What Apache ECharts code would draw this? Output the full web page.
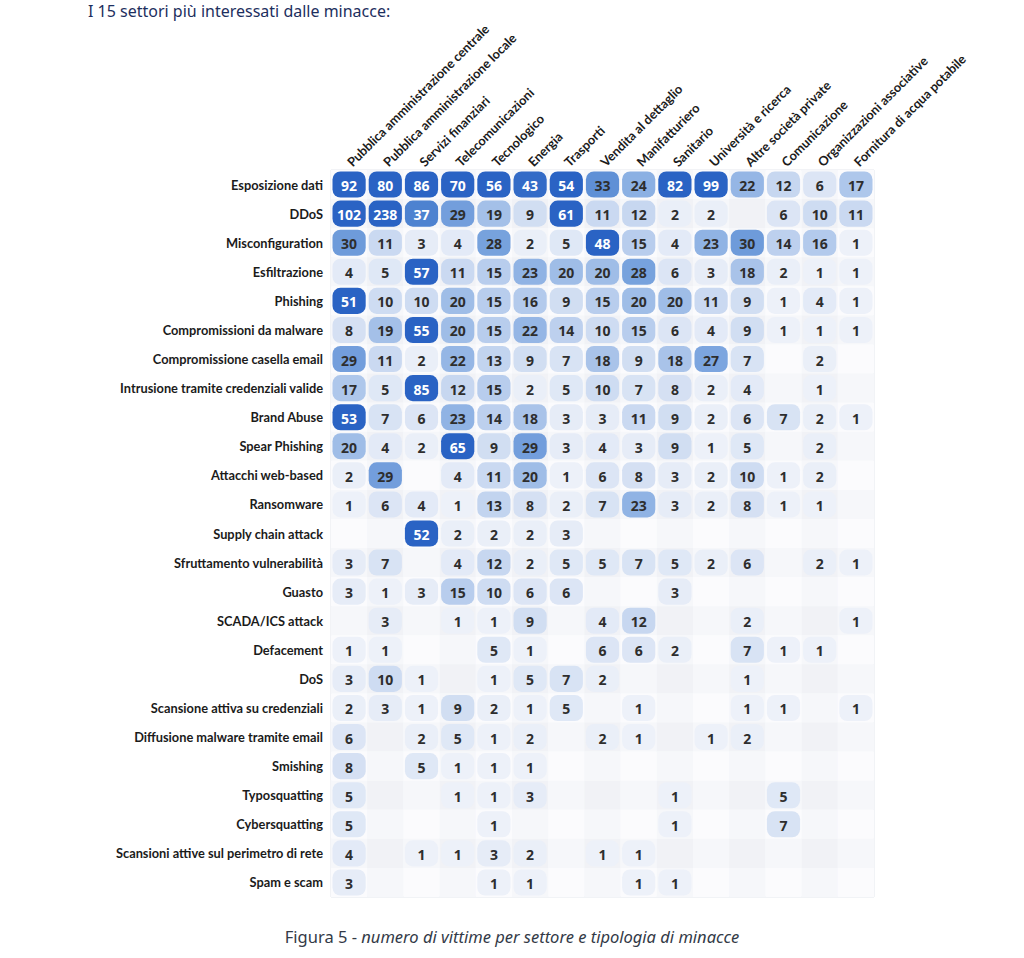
<!DOCTYPE html>
<html>
<head>
<meta charset="utf-8">
<script src="https://cdn.jsdelivr.net/npm/echarts@6/dist/echarts.min.js"></script>
<style>
html,body{margin:0;padding:0;background:#fff;}
#chart{width:1024px;height:958px;}
</style>
</head>
<body>
<div id="chart"></div>
<script>
const sectors = [
  'Pubblica amministrazione centrale','Pubblica amministrazione locale','Servizi finanziari',
  'Telecomunicazioni','Tecnologico','Energia','Trasporti','Vendita al dettaglio',
  'Manifatturiero','Sanitario','Università e ricerca','Altre società private',
  'Comunicazione','Organizzazioni associative','Fornitura di acqua potabile'
];
const threats = [
  'Esposizione dati','DDoS','Misconfiguration','Esfiltrazione','Phishing',
  'Compromissioni da malware','Compromissione casella email','Intrusione tramite credenziali valide',
  'Brand Abuse','Spear Phishing','Attacchi web-based','Ransomware','Supply chain attack',
  'Sfruttamento vulnerabilità','Guasto','SCADA/ICS attack','Defacement','DoS',
  'Scansione attiva su credenziali','Diffusione malware tramite email','Smishing',
  'Typosquatting','Cybersquatting','Scansioni attive sul perimetro di rete','Spam e scam'
];
// one row per threat, one column per sector (null = no victims)
const counts = [
  [92,80,86,70,56,43,54,33,24,82,99,22,12,6,17],
  [102,238,37,29,19,9,61,11,12,2,2,null,6,10,11],
  [30,11,3,4,28,2,5,48,15,4,23,30,14,16,1],
  [4,5,57,11,15,23,20,20,28,6,3,18,2,1,1],
  [51,10,10,20,15,16,9,15,20,20,11,9,1,4,1],
  [8,19,55,20,15,22,14,10,15,6,4,9,1,1,1],
  [29,11,2,22,13,9,7,18,9,18,27,7,null,2,null],
  [17,5,85,12,15,2,5,10,7,8,2,4,null,1,null],
  [53,7,6,23,14,18,3,3,11,9,2,6,7,2,1],
  [20,4,2,65,9,29,3,4,3,9,1,5,null,2,null],
  [2,29,null,4,11,20,1,6,8,3,2,10,1,2,null],
  [1,6,4,1,13,8,2,7,23,3,2,8,1,1,null],
  [null,null,52,2,2,2,3,null,null,null,null,null,null,null,null],
  [3,7,null,4,12,2,5,5,7,5,2,6,null,2,1],
  [3,1,3,15,10,6,6,null,null,3,null,null,null,null,null],
  [null,3,null,1,1,9,null,4,12,null,null,2,null,null,1],
  [1,1,null,null,5,1,null,6,6,2,null,7,1,1,null],
  [3,10,1,null,1,5,7,2,null,null,null,1,null,null,null],
  [2,3,1,9,2,1,5,null,1,null,null,1,1,null,1],
  [6,null,2,5,1,2,null,2,1,null,1,2,null,null,null],
  [8,null,5,1,1,1,null,null,null,null,null,null,null,null,null],
  [5,null,null,1,1,3,null,null,null,1,null,null,5,null,null],
  [5,null,null,null,1,null,null,null,null,1,null,null,7,null,null],
  [4,null,1,1,3,2,null,1,1,null,null,null,null,null,null],
  [3,null,null,null,1,1,null,null,1,1,null,null,null,null,null]
];
const headline = 'I 15 settori più interessati dalle minacce:';
const captionLead = 'Figura 5 - ';
const captionText = 'numero di vittime per settore e tipologia di minacce';

const cells = [];
const bgCells = [];
counts.forEach((row, r) => row.forEach((v, c) => {
  bgCells.push([c, r, 0]);
  if (v !== null) cells.push([c, r, v]);
}));

const chart = echarts.init(document.getElementById('chart'), null, {renderer: 'svg'});
const FONT = '"Noto Sans", "Open Sans", sans-serif';
const LFONT = 'Lato, "Noto Sans", sans-serif';

chart.setOption({
  animation: false,
  backgroundColor: '#ffffff',
  grid: {left: 331, right: 150, top: 170, bottom: 61, show: true,
         backgroundColor: '#f9fafc', borderColor: '#e4e7ed', borderWidth: 1},
  xAxis: {
    type: 'category', data: sectors, position: 'top',
    axisLine: {show: false}, axisTick: {show: false}, splitLine: {show: false},
    axisLabel: {rotate: -45, interval: 0, margin: 6, color: '#1b1b1b',
                fontSize: 12.8, fontWeight: 'bold', fontFamily: LFONT}
  },
  yAxis: {
    type: 'category', data: threats, inverse: true,
    axisLine: {show: false}, axisTick: {show: false}, splitLine: {show: false},
    axisLabel: {margin: 8, color: '#1b1b1b', fontSize: 12.8, fontWeight: 'bold', fontFamily: LFONT}
  },
  visualMap: {
    show: false, seriesIndex: 1, dimension: 2, min: 1, max: 45,
    inRange: {color: ['#edf1f9', '#c7d7f0', '#90b3e4', '#5a8dd5', '#2a63c4']}
  },
  series: [
    {
      type: 'custom', data: bgCells, silent: true,
      renderItem(params, api) {
        const c = api.coord([api.value(0), api.value(1)]);
        const s = api.size([1, 1]);
        const col = api.value(0), row = api.value(1);
        const shade = (col % 2) + (row % 2);
        const fills = ['#fbfbfd', '#f6f7fa', '#f1f2f6'];
        return {type: 'rect',
          shape: {x: c[0] - s[0] / 2, y: c[1] - s[1] / 2, width: s[0], height: s[1]},
          style: {fill: fills[shade]}};
      }
    },
    {
      type: 'custom', data: cells,
      renderItem(params, api) {
        const v = api.value(2);
        const c = api.coord([api.value(0), api.value(1)]);
        const s = api.size([1, 1]);
        const w = s[0] - 3, h = s[1] - 3;
        return {type: 'group', children: [
          {type: 'rect',
           shape: {x: c[0] - w / 2, y: c[1] - h / 2, width: w, height: h, r: 8},
           style: {fill: api.visual('color')}},
          {type: 'text',
           style: {text: String(v), x: c[0], y: c[1] + 1, align: 'center', verticalAlign: 'middle',
                   fill: v >= 35 ? '#ffffff' : '#2e2e2e',
                   font: 'bold 14px ' + FONT}}
        ]};
      }
    }
  ],
  graphic: [
    {type: 'text', left: 88, top: 3,
     style: {text: headline, fill: '#1d2f5e', font: '16px ' + FONT}},
    {type: 'text', left: 'center', top: 928,
     style: {text: '{a|' + captionLead + '}{b|' + captionText + '}',
             rich: {a: {fill: '#333a47', font: '16.5px ' + FONT},
                    b: {fill: '#333a47', font: 'italic 16.5px ' + FONT}}}}
  ]
});
</script>
</body>
</html>
